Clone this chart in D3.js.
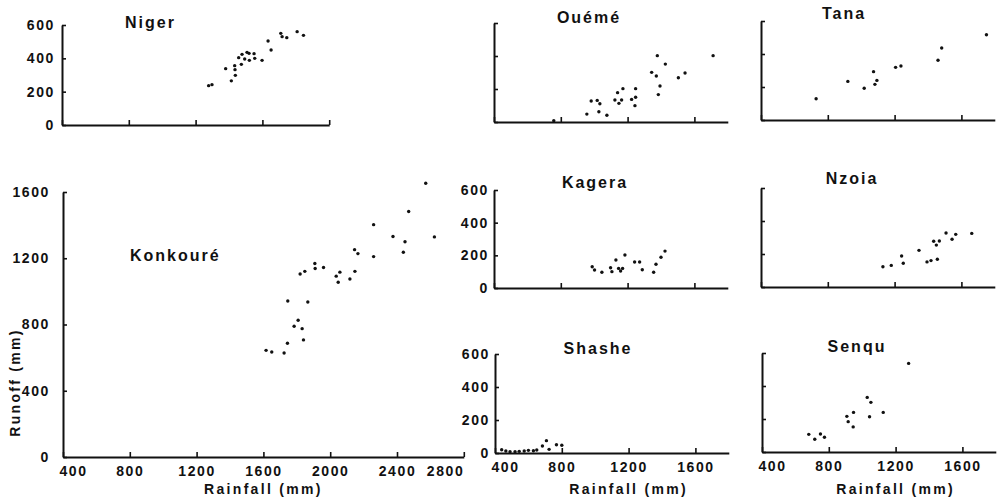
<!DOCTYPE html>
<html>
<head>
<meta charset="utf-8">
<script src="https://cdn.jsdelivr.net/npm/d3@7"></script>
<style>
  body { margin: 0; background: #fff; }
  svg { display: block; }
  text { font-family: "Liberation Sans", Arial, sans-serif; font-weight: bold; fill: #111; }
</style>
</head>
<body>
<div id="chart"></div>
<script>
// tick values
const xTicksWide = [400, 800, 1200, 1600, 2000, 2400, 2800];
const xTicksSmall = [400, 800, 1200, 1600];
const yTicksSmall = [0, 200, 400, 600];
const yTicksBig = [0, 400, 800, 1200, 1600];

// rainfall (mm) / runoff (mm) per basin
const nigerRain   = [1278, 1298, 1380, 1414, 1438, 1436, 1434, 1474, 1458, 1478, 1494, 1508, 1520, 1522, 1550, 1554, 1598, 1634, 1652, 1710, 1718, 1746, 1808, 1846];
const nigerRunoff = [236, 242, 338, 265, 298, 332, 356, 364, 404, 424, 396, 436, 430, 388, 428, 400, 388, 504, 450, 550, 530, 524, 560, 538];

const konkoureRain   = [1616, 1650, 1724, 1744, 1840, 1784, 1808, 1832, 1746, 1866, 1820, 1848, 1908, 1910, 1960, 2036, 2058, 2048, 2118, 2148, 2146, 2166, 2260, 2260, 2376, 2448, 2438, 2470, 2572, 2624];
const konkoureRunoff = [644, 634, 628, 687, 707, 789, 826, 775, 942, 936, 1105, 1121, 1168, 1138, 1144, 1092, 1116, 1055, 1075, 1121, 1252, 1228, 1403, 1210, 1331, 1300, 1236, 1482, 1653, 1329];

const ouemeRain   = [758, 956, 982, 1018, 1034, 1028, 1076, 1124, 1140, 1148, 1164, 1172, 1224, 1248, 1248, 1244, 1344, 1378, 1372, 1426, 1394, 1384, 1504, 1544, 1712];
const ouemeRunoff = [8, 48, 127, 131, 111, 62, 41, 133, 178, 113, 133, 202, 137, 202, 150, 99, 301, 402, 279, 351, 218, 166, 268, 297, 402];

const kageraRain   = [988, 1002, 1046, 1098, 1106, 1130, 1146, 1158, 1170, 1184, 1242, 1272, 1288, 1356, 1370, 1400, 1424];
const kageraRunoff = [130, 110, 96, 124, 100, 171, 120, 104, 120, 202, 159, 159, 112, 96, 145, 188, 226];

const shasheRain   = [440, 465, 490, 520, 545, 575, 600, 630, 650, 684, 708, 724, 768, 800];
const shasheRunoff = [20, 12, 8, 8, 10, 12, 16, 14, 18, 42, 75, 22, 50, 47];

const tanaRain   = [730, 920, 1018, 1074, 1082, 1094, 1206, 1238, 1460, 1482, 1750];
const tanaRunoff = [129, 234, 192, 293, 216, 240, 319, 327, 362, 436, 517];

const nzoiaRain   = [1130, 1180, 1242, 1252, 1346, 1394, 1418, 1434, 1450, 1468, 1456, 1508, 1544, 1566, 1662];
const nzoiaRunoff = [123, 131, 188, 144, 222, 152, 160, 277, 254, 279, 168, 327, 289, 319, 325];

const senquRain   = [680, 716, 750, 774, 908, 916, 948, 946, 1030, 1052, 1044, 1126, 1278];
const senquRunoff = [107, 77, 109, 89, 216, 184, 240, 152, 331, 301, 214, 240, 537];

const width = 1000, height = 503;
const px400 = 66.8; // pixels per 400 mm, same in every panel

const svg = d3.select("#chart").append("svg")
    .attr("width", width)
    .attr("height", height);

// layout of each panel
const panels = [
    { name: "Niger", rain: nigerRain, runoff: nigerRunoff, left: 62, top: 25, bottom: 125,
      xMax: 2000, yMax: 600, xTicks: [400, 800, 1200, 1600, 2000], yTicks: yTicksSmall,
      xLabels: false, yLabels: true, yPad: 7, title: [125, 28, "start"] },
    { name: "Konkouré", rain: konkoureRain, runoff: konkoureRunoff, left: 63, top: 192, bottom: 457,
      xMax: 2800, yMax: 1600, xTicks: xTicksWide, yTicks: yTicksBig,
      xLabels: true, yLabels: true, yPad: 13, title: [130, 261, "start"], xTitleAt: 1600, yTitle: true },
    { name: "Ouémé", rain: ouemeRain, runoff: ouemeRunoff, left: 494, top: 23, bottom: 122,
      xMax: 1800, yMax: 600, xTicks: xTicksSmall, yTicks: yTicksSmall,
      xLabels: false, yLabels: false, title: [589, 23, "middle"] },
    { name: "Kagera", rain: kageraRain, runoff: kageraRunoff, left: 494, top: 190, bottom: 288,
      xMax: 1800, yMax: 600, xTicks: xTicksSmall, yTicks: yTicksSmall,
      xLabels: false, yLabels: true, yPad: 5, title: [595, 188, "middle"] },
    { name: "Shashe", rain: shasheRain, runoff: shasheRunoff, left: 495, top: 354, bottom: 453,
      xMax: 1800, yMax: 600, xTicks: xTicksSmall, yTicks: yTicksSmall,
      xLabels: true, yLabels: true, yPad: 5, title: [598, 354, "middle"], xTitleAt: 1200 },
    { name: "Tana", rain: tanaRain, runoff: tanaRunoff, left: 761, top: 21, bottom: 120,
      xMax: 1800, yMax: 600, xTicks: xTicksSmall, yTicks: yTicksSmall,
      xLabels: false, yLabels: false, title: [844, 19, "middle"] },
    { name: "Nzoia", rain: nzoiaRain, runoff: nzoiaRunoff, left: 761, top: 188, bottom: 287,
      xMax: 1800, yMax: 600, xTicks: xTicksSmall, yTicks: yTicksSmall,
      xLabels: false, yLabels: false, title: [852, 184, "middle"] },
    { name: "Senqu", rain: senquRain, runoff: senquRunoff, left: 762, top: 353, bottom: 452,
      xMax: 1800, yMax: 600, xTicks: xTicksSmall, yTicks: yTicksSmall,
      xLabels: true, yLabels: false, title: [857, 352, "middle"], xTitleAt: 1200 }
];

panels.forEach(p => drawPanel(p));

function drawPanel(p) {
    let x = d3.scaleLinear()
        .domain([400, p.xMax])
        .range([p.left, p.left + (p.xMax - 400) / 400 * px400]);
    let y = d3.scaleLinear()
        .domain([0, p.yMax])
        .range([p.bottom, p.top]);

    let g = svg.append("g");

    // x axis, ticks pointing up
    let xAxis = d3.axisBottom(x)
        .tickValues(p.xTicks)
        .tickSizeInner(-5)
        .tickSizeOuter(0)
        .tickPadding(9)
        .tickFormat(p.xLabels ? d3.format("d") : "");
    let xg = g.append("g")
        .attr("transform", `translate(0, ${p.bottom})`)
        .call(xAxis);

    // y axis, ticks pointing right
    let yAxis = d3.axisLeft(y)
        .tickValues(p.yTicks)
        .tickSizeInner(-4)
        .tickSizeOuter(0)
        .tickPadding(p.yPad || 6)
        .tickFormat(p.yLabels ? d3.format("d") : "");
    let yg = g.append("g")
        .attr("transform", `translate(${p.left}, 0)`)
        .call(yAxis);

    [xg, yg].forEach(a => {
        a.select(".domain").attr("stroke", "#111").attr("stroke-width", 2);
        a.selectAll(".tick line").attr("stroke", "#111").attr("stroke-width", 1.6);
        a.selectAll(".tick text")
            .attr("fill", "#111")
            .style("font-size", "14px")
            .style("font-weight", "bold")
            .style("letter-spacing", "1.6px");
    });

    // nudge the first / last rainfall labels like the original
    xg.selectAll(".tick text")
        .attr("dx", d => d === 400 ? 10 : 0)
        .attr("text-anchor", d => d === 2800 ? "end" : "middle");

    // points
    g.selectAll("circle")
        .data(p.rain.map((r, i) => ({ rain: r, runoff: p.runoff[i] })))
        .enter().append("circle")
        .attr("cx", d => x(d.rain))
        .attr("cy", d => y(d.runoff))
        .attr("r", 1.7)
        .attr("fill", "#111");

    // panel title
    g.append("text")
        .attr("x", p.title[0])
        .attr("y", p.title[1])
        .attr("text-anchor", p.title[2])
        .style("font-size", "16px")
        .style("letter-spacing", "2px")
        .text(p.name);

    if (p.xTitleAt) {
        g.append("text")
            .attr("x", x(p.xTitleAt))
            .attr("y", 494)
            .attr("text-anchor", "middle")
            .style("font-size", "14px")
            .style("letter-spacing", "2.3px")
            .text("Rainfall (mm)");
    }

    if (p.yTitle) {
        g.append("text")
            .attr("transform", `translate(20, ${y(450)}) rotate(-90)`)
            .attr("text-anchor", "middle")
            .style("font-size", "14px")
            .style("letter-spacing", "2.3px")
            .text("Runoff (mm)");
    }
}
</script>
</body>
</html>
